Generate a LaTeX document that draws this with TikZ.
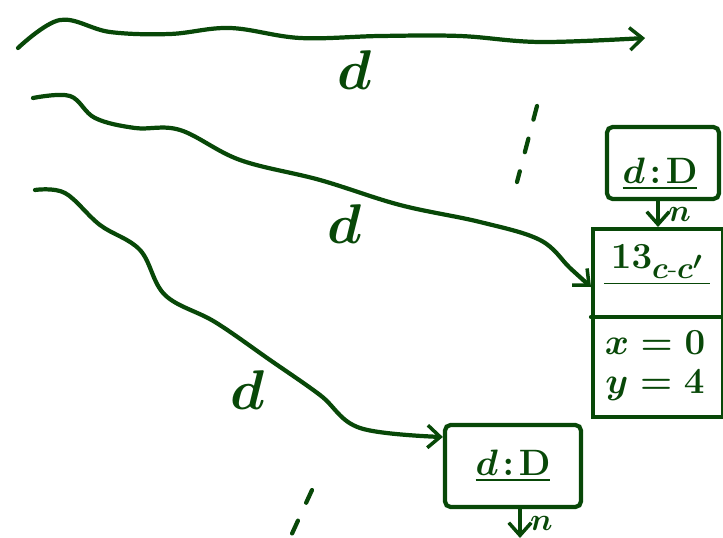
\documentclass[tikz,border=0pt]{standalone}
\usepackage{amsmath}
\usetikzlibrary{arrows.meta,calc,positioning}
\definecolor{ink}{RGB}{8,72,8}

\begin{document}
\begin{tikzpicture}[
    x=0.025cm, y=-0.025cm,
    wave/.style={line width=3pt, draw=ink, line cap=round, line join=round},
    arr/.style={wave, -{Straight Barb[length=9pt,width=16pt,line width=2.5pt]}},
    box/.style={
      draw=ink, line width=3pt, rounded corners=4pt,
      minimum width=2.8cm, minimum height=1.8cm,
      text=ink, inner sep=4pt
    },
    stackbox/.style={
      draw=ink, line width=3pt,
      minimum width=3.25cm, minimum height=4.7cm
    },
    lbl/.style={text=ink, font=\boldmath\Huge, scale=1.6},
    cell/.style={text=ink, font=\boldmath\Huge, scale=1.05},
    small/.style={text=ink, font=\boldmath\LARGE, scale=1.3},
    dotted3/.style={wave, dash pattern=on 10pt off 14pt}
  ]
  \useasboundingbox (0,0) rectangle (723,538);

  % Nodes
  \node[box] (top) at (663,163) {};
  \node[cell] (topT) at (660,174) {$\underline{d\!:\!\mathrm{D}}$};

  \node[stackbox, anchor=north west] (stk) at (591,227) {};
  \node[cell] (stkA) at (657,265) {$\underline{\,13_{c\text{-}c'}\,}$};
  \node[cell] (stkX) at (655,343) {$x=0$};
  \node[cell] (stkY) at (655,385) {$y=4$};

  \node[box, minimum width=3.4cm, minimum height=2.05cm] (bot) at (513,466) {};
  \node[cell] (botT) at (513,466) {$\underline{d\!:\!\mathrm{D}}$};

  % Free ends of the waves
  \coordinate (s1) at (18,48);
  \coordinate (e1) at (645,38);
  \coordinate (s2) at (33,98);
  \coordinate (s3) at (35,190);
  \coordinate (e4) at (520,538);

  % Waves
  \draw[arr] plot[smooth, tension=0.6] coordinates {(s1) (60,20) (110,32) (170,34)
      (230,28) (300,38) (380,36) (460,36) (540,42) (e1)};
  \draw[arr] plot[smooth, tension=0.6] coordinates {(s2) (70,96) (95,118) (135,128)
      (180,130) (240,160) (320,180) (400,205) (480,222) (540,240) (570,268) (stk.west |- 0,287)};
  \draw[arr] plot[smooth, tension=0.6] coordinates {(s3) (65,193) (100,225) (140,250)
      (165,295) (215,322) (270,360) (320,395) (360,428) (bot.west |- 0,437)};

  % Labels on the waves
  \node[lbl] (d1) at (355,70) {$d$};
  \node[lbl] (d2) at (345,224) {$d$};
  \node[lbl] (d3) at (248,390) {$d$};

  % Stack divider
  \draw[wave] (stk.west |- 0,317) -- (stk.east |- 0,317);

  % n arrows
  \draw[arr] (top.south -| 658,0) -- (stk.north -| 658,0)
    node[small, midway, right=1pt] {$n$};
  \draw[arr] (bot.south -| 520,0) -- (e4)
    node[small, midway, right=1pt] {$n$};

  % Dots
  \coordinate (dA) at (537,106);
  \coordinate (dB) at (517,182);
  \draw[dotted3] (dA) -- (dB);
  \coordinate (dC) at (312,490);
  \coordinate (dD) at (290,538);
  \draw[dotted3] (dC) -- (dD);

\end{tikzpicture}
\end{document}
